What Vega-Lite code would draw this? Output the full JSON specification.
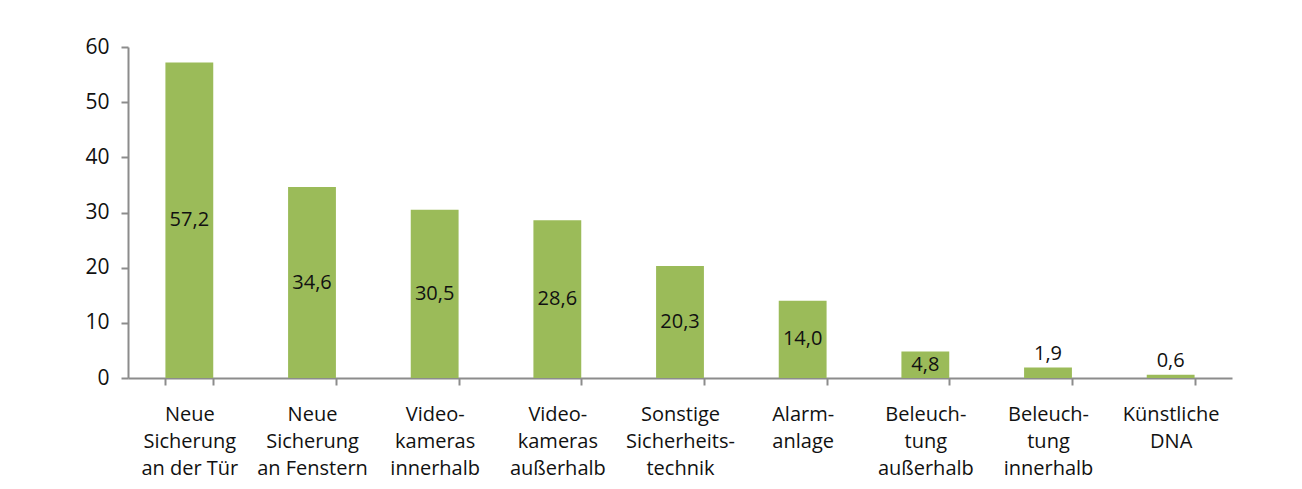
{
  "$schema": "https://vega.github.io/schema/vega-lite/v6.json",
  "autosize": "none",
  "width": 1104,
  "height": 331,
  "padding": {"left": 128, "top": 47, "right": 70, "bottom": 111},
  "background": "white",
  "config": {
    "view": {"stroke": null},
    "font": "Open Sans",
    "axis": {"labelFont": "Open Sans", "labelColor": "#111111", "domainColor": "#8c8c8c", "tickColor": "#8c8c8c", "domainWidth": 2, "tickWidth": 2}
  },
  "data": {
    "values": [
      {"cat": "Neue|Sicherung|an der Tür", "v": 57.2},
      {"cat": "Neue|Sicherung|an Fenstern", "v": 34.6},
      {"cat": "Video-|kameras|innerhalb", "v": 30.5},
      {"cat": "Video-|kameras|außerhalb", "v": 28.6},
      {"cat": "Sonstige|Sicherheits-|technik", "v": 20.3},
      {"cat": "Alarm-|anlage", "v": 14.0},
      {"cat": "Beleuch-|tung|außerhalb", "v": 4.8},
      {"cat": "Beleuch-|tung|innerhalb", "v": 1.9},
      {"cat": "Künstliche|DNA", "v": 0.6}
    ]
  },
  "transform": [
    {"calculate": "replace(format(datum.v, '.1f'), '.', ',')", "as": "lbl"},
    {"calculate": "datum.v / 2", "as": "mid"}
  ],
  "encoding": {
    "x": {
      "field": "cat", "type": "nominal", "sort": null,
      "scale": {"paddingInner": 0.61, "paddingOuter": 0.305},
      "axis": {
        "title": null, "labelAngle": 0, "labelExpr": "split(datum.label, '|')",
        "labelFontSize": 20, "labelLineHeight": 27, "labelBaseline": "top",
        "labelPadding": 19, "tickSize": 7, "tickBand": "extent", "labelLimit": 200
      }
    }
  },
  "layer": [
    {
      "mark": {"type": "bar", "color": "#9bbb59"},
      "encoding": {
        "y": {
          "field": "v", "type": "quantitative",
          "scale": {"domain": [0, 60]},
          "axis": {"title": null, "values": [0, 10, 20, 30, 40, 50, 60], "grid": false, "labelFontSize": 21, "tickSize": 7, "labelPadding": 12}
        }
      }
    },
    {
      "transform": [{"filter": "datum.v > 3"}],
      "mark": {"type": "text", "fontSize": 20, "color": "#111111", "font": "Open Sans"},
      "encoding": {
        "y": {"field": "mid", "type": "quantitative"},
        "text": {"field": "lbl"}
      }
    },
    {
      "transform": [{"filter": "datum.v <= 3"}],
      "mark": {"type": "text", "fontSize": 20, "color": "#111111", "font": "Open Sans", "baseline": "bottom", "dy": -4},
      "encoding": {
        "y": {"field": "v", "type": "quantitative"},
        "text": {"field": "lbl"}
      }
    }
  ]
}
